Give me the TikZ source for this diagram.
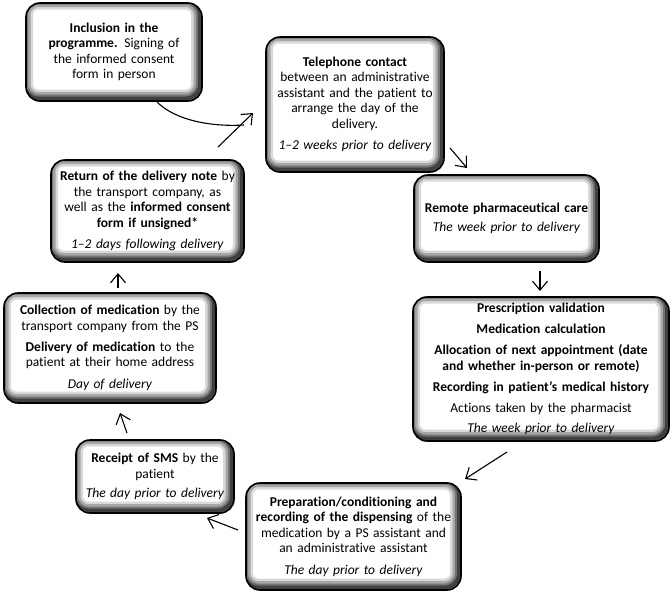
\documentclass[tikz,border=0pt]{standalone}
\usepackage{fontspec}
\setmainfont[Ligatures={TeX,NoCommon,NoRare,NoDiscretionary}, Contextuals={NoAlternate}]{Carlito}
\usetikzlibrary{arrows.meta}
\begin{document}
\begin{tikzpicture}[x=1pt, y=-1pt,
	stage/.style={draw, line width=1.6pt, rounded corners=14pt, fill=white, align=center, inner sep=5pt, font=\fontsize{13.5}{15.5}\selectfont,
		path picture={
			\foreach \w/\c in {18/15,13/35,8/55,4/75}
				\draw[line width=\w pt, black!\c, rounded corners=14pt] ([shift={(-2pt,2.5pt)}]path picture bounding box.south west) rectangle ([shift={(-2pt,2.5pt)}]path picture bounding box.north east);
		}},
	arr/.style={-{Straight Barb[length=9pt, width=15pt]}, line width=1.1pt}]
%			\draw[help lines] (0,0) grid (672,592);
			\useasboundingbox (0,0) rectangle (672,592);
			\node[stage, text width=166pt, minimum height=98pt] (incl) at (114, 52) {\textbf{Inclusion in the}\\ \textbf{programme.} Signing of\\ the informed consent\\ form in person};
			\node[stage, text width=168pt, minimum height=135pt] (tel) at (355, 104.5) {\textbf{Telephone contact}\\ between an administrative\\ assistant and the patient to\\ arrange the day of the\\ delivery.\\[6pt] \textit{1--2 weeks prior to delivery}};
			\node[stage, text width=183pt, minimum height=102pt] (ret) at (147.5, 211) {\textbf{Return of the delivery note} by\\ the transport company, as\\ well as the \textbf{informed consent}\\ \textbf{form if unsigned*}\\[6pt] \textit{1--2 days following delivery}};
			\node[stage, text width=175pt, minimum height=87pt] (rem) at (506.5, 218.5) {\textbf{Remote pharmaceutical care}\\[4pt] \textit{The week prior to delivery}};
			\node[stage, text width=202pt, minimum height=110pt] (coll) at (110, 348) {\textbf{Collection of medication} by the\\ transport company from the PS\\[5.5pt] \textbf{Delivery of medication} to the\\ patient at their home address\\[6pt] \textit{Day of delivery}};
			\node[stage, text width=246pt, minimum height=144pt] (presc) at (541, 369) {\textbf{Prescription validation}\\[5.5pt] \textbf{Medication calculation}\\[5.5pt] \textbf{Allocation of next appointment (date}\\ \textbf{and whether in-person or remote)}\\[5.5pt] \textbf{Recording in patient's medical history}\\[5.5pt] Ac\kern0pt t\kern0pt ions taken by the pharmacist\\[5pt] \textit{The week prior to delivery}};
			\node[stage, text width=148pt, minimum height=73pt] (rec) at (155, 476.5) {\textbf{Receipt of SMS} by the\\ patient\\[4pt] \textit{The day prior to delivery}};
			\node[stage, text width=205pt, minimum height=107pt] (prep) at (353.5, 536.5) {\textbf{Preparation/conditioning and}\\ \textbf{recording of the dispensing} of the\\ medication by a PS assistant and\\ an administrative assistant\\[6pt] \textit{The day prior to delivery}};
			% arrow ends
			\coordinate (incl-out) at (157, 102);
			\coordinate (join) at (244, 125);
			\coordinate (ret-out) at (218, 147);
			\coordinate (tel-in) at (253, 113);
			\coordinate (tel-out) at (450, 148);
			\coordinate (rem-in) at (467, 168);
			\coordinate (rem-out) at (540, 271);
			\coordinate (presc-in) at (540, 291);
			\coordinate (presc-out) at (507, 452);
			\coordinate (prep-in) at (465, 479);
			\coordinate (prep-out) at (238, 530);
			\coordinate (rec-in) at (207, 518);
			\coordinate (rec-out) at (127, 433);
			\coordinate (coll-in) at (120, 413);
			\coordinate (coll-out) at (118, 288);
			\coordinate (ret-in) at (118, 273);
			\draw[line width=1.1pt] (incl-out) .. controls (175, 120) and (210, 127) .. (join);
			\draw[arr] (ret-out) -- (tel-in);
			\draw[arr] (tel-out) -- (rem-in);
			\draw[arr] (rem-out) -- (presc-in);
			\draw[arr] (presc-out) -- (prep-in);
			\draw[arr] (prep-out) -- (rec-in);
			\draw[arr] (rec-out) -- (coll-in);
			\draw[arr] (coll-out) -- (ret-in);
		\end{tikzpicture}
\end{document}
